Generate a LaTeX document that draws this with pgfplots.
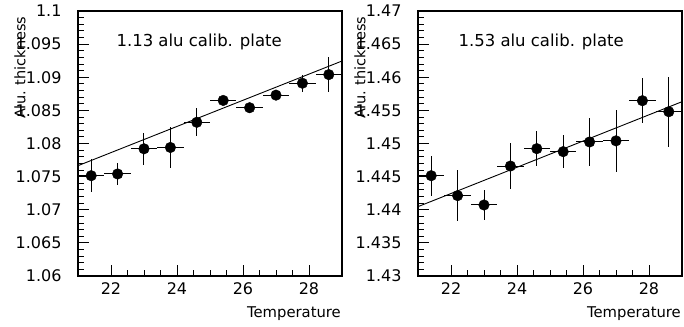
\documentclass[border=0pt]{standalone}
\usepackage{pgfplots}
\pgfplotsset{compat=1.18}
\usepackage{pgfplotstable}
\usepackage{fontspec}
\setmainfont{DejaVu Sans}

\pgfplotstableread{
x y ex ey
21.4 1.07514 0.4 0.0025
22.2 1.07540 0.4 0.0017
23.0 1.07920 0.4 0.0024
23.8 1.07940 0.4 0.0031
24.6 1.08320 0.4 0.0021
25.4 1.08650 0.4 0.0004
26.2 1.08540 0.4 0.0004
27.0 1.08730 0.4 0.0004
27.8 1.08910 0.4 0.0013
28.6 1.09040 0.4 0.0026
}\tableA

\pgfplotstableread{
x y ex ey
21.4 1.44514 0.4 0.0030
22.2 1.44213 0.4 0.0038
23.0 1.44072 0.4 0.0022
23.8 1.44660 0.4 0.0034
24.6 1.44922 0.4 0.0026
25.4 1.44877 0.4 0.0025
26.2 1.45023 0.4 0.0036
27.0 1.45040 0.4 0.0047
27.8 1.45646 0.4 0.0034
28.6 1.45480 0.4 0.0053
}\tableB

\pgfplotstableread{
x y
21 1.07665
29 1.09245
}\fitA

\pgfplotstableread{
x y
21 1.44047
29 1.45631
}\fitB

\pgfplotsset{
  rootstyle/.style={
    scale only axis, width=264pt, height=265pt, anchor=south west,
    xmin=21, xmax=29,
    xtick={22,24,26,28}, xticklabels={22,24,26,28},
    minor x tick num=3, minor y tick num=4,
    tick align=inside, tick pos=left,
    major tick length=11pt, minor tick length=5.5pt,
    every tick/.style={black, line width=0.9pt},
    axis line style={line width=1.2pt},
    ticklabel style={font=\fontsize{16}{16}\selectfont},
    yticklabel style={xshift=-13pt},
    xticklabel style={yshift=-3pt},
    /pgf/number format/assume math mode=true,
    clip mode=individual,
  },
  pts/.style={only marks, mark=*, mark size=5.3pt, black,
    error bars/.cd, x dir=both, x explicit, y dir=both, y explicit,
    error bar style={line width=1pt, black}, error mark=none},
}

\begin{document}
\begin{tikzpicture}[x=1pt,y=1pt]
\path[use as bounding box] (0,0) rectangle (684,326);
\begin{axis}[rootstyle, at={(78pt,50pt)},
  ymin=1.06, ymax=1.1,
  ytick={1.06,1.065,1.07,1.075,1.08,1.085,1.09,1.095,1.1},
  yticklabels={1.06,1.065,1.07,1.075,1.08,1.085,1.09,1.095,1.1}]
\addplot[pts] table[x=x, y=y, x error=ex, y error=ey] {\tableA};
\addplot[black, line width=0.9pt, no marks] table[x=x,y=y] {\fitA};
\path (rel axis cs:0,0) ++(35pt,234pt) node[anchor=west, font=\fontsize{16.5}{17}\selectfont] {1.13 alu calib. plate};
\path (rel axis cs:0,1) ++(-58pt,-2pt) node[anchor=east, rotate=90, font=\fontsize{14.5}{15}\selectfont] {Alu. thickness};
\path (rel axis cs:1,0) ++(-1pt,-41.3pt) node[anchor=base east, font=\fontsize{14.8}{15}\selectfont, inner sep=0pt] {Temperature};
\end{axis}
\begin{axis}[rootstyle, at={(418pt,50pt)},
  ymin=1.43, ymax=1.47,
  ytick={1.43,1.435,1.44,1.445,1.45,1.455,1.46,1.465,1.47},
  yticklabels={1.43,1.435,1.44,1.445,1.45,1.455,1.46,1.465,1.47}]
\addplot[pts] table[x=x, y=y, x error=ex, y error=ey] {\tableB};
\addplot[black, line width=0.9pt, no marks] table[x=x,y=y] {\fitB};
\path (rel axis cs:0,0) ++(37pt,234pt) node[anchor=west, font=\fontsize{16.5}{17}\selectfont] {1.53 alu calib. plate};
\path (rel axis cs:0,1) ++(-58pt,-2pt) node[anchor=east, rotate=90, font=\fontsize{14.5}{15}\selectfont] {Alu. thickness};
\path (rel axis cs:1,0) ++(-1pt,-41.3pt) node[anchor=base east, font=\fontsize{14.8}{15}\selectfont, inner sep=0pt] {Temperature};
\end{axis}
\end{tikzpicture}
\end{document}
